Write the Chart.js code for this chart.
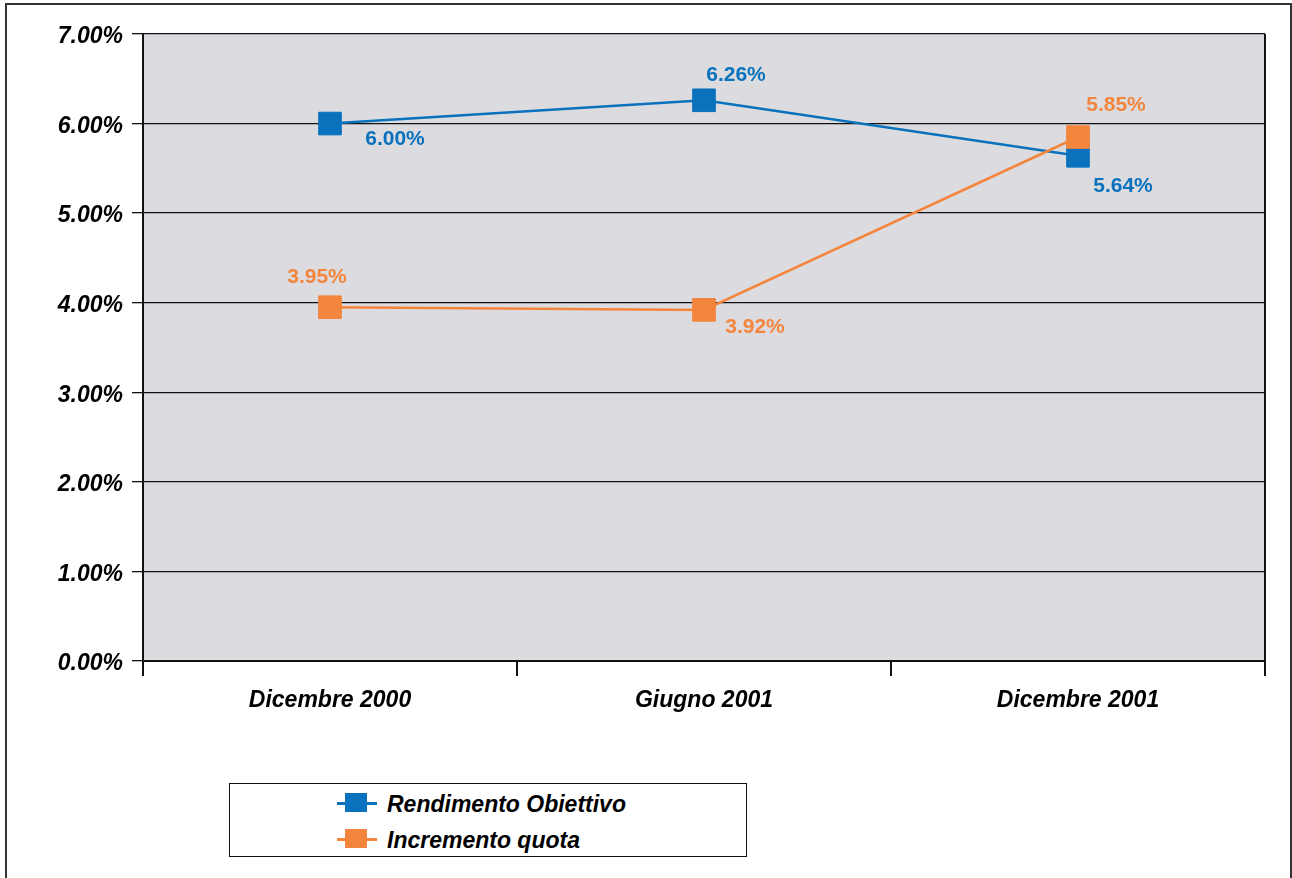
<!DOCTYPE html>
<html>
<head>
<meta charset="utf-8">
<script src="https://cdn.jsdelivr.net/npm/chart.js@4.4.1/dist/chart.umd.min.js"></script>
<style>
  html, body { margin: 0; padding: 0; background: #fff; }
  #frame { position: absolute; left: 5px; top: 3px; width: 1283px; height: 890px; border: 2px solid #333; }
  #wrap { position: absolute; left: 0; top: 0; width: 1292px; height: 878px; }
  #legend {
    position: absolute; left: 229px; top: 783px; width: 516px; height: 72px;
    border: 1.5px solid #111; background: #fff;
    font-family: 'Liberation Sans', Arial, sans-serif; font-style: italic; font-weight: bold;
    font-size: 23px; color: #000;
  }
  .item { position: absolute; left: 107px; height: 24px; line-height: 24px; white-space: nowrap; }
  .sym { position: absolute; left: 0; top: 0; width: 40px; height: 24px; }
  .sym .ln { position: absolute; left: 0; top: 11px; width: 40px; height: 3px; }
  .sym .sq { position: absolute; left: 8px; top: 2px; width: 22px; height: 19px; }
  .item .txt { position: absolute; left: 50px; top: 1px; }
</style>
</head>
<body>
<div id="frame"></div>
<div id="wrap"><canvas id="chart" width="1292" height="878"></canvas></div>
<div id="legend"></div>
<script>
// Rendimento obiettivo vs incremento quota

const categories = ['Dicembre 2000', 'Giugno 2001', 'Dicembre 2001'];
const seriesNames = ['Rendimento Obiettivo', 'Incremento quota'];
const rendimento = [6.00, 6.26, 5.64];
const incremento = [3.95, 3.92, 5.85];
const yTicks = [0, 1, 2, 3, 4, 5, 6, 7];

const BLUE = '#0a72bd';
const ORANGE = '#f4853d';
const FONT = "'Liberation Sans', Arial, sans-serif";

// where each value label sits relative to its point (px)
const labelOffsets = [
    [[65, 16], [32, -25], [45, 30]],
    [[-13, -30], [51, 17], [38, -32]]
];

const plotBackground = {
    id: 'plotBackground',
    beforeDraw(chart) {
        const a = chart.chartArea;
        const ctx = chart.ctx;
        ctx.save();
        ctx.fillStyle = '#dcdce0';
        ctx.fillRect(a.left, a.top, a.right - a.left, a.bottom - a.top);
        ctx.restore();
    },
    afterDraw(chart) {
        const a = chart.chartArea;
        const ctx = chart.ctx;
        ctx.save();
        ctx.strokeStyle = '#111';
        ctx.lineWidth = 2;
        ctx.beginPath();
        ctx.moveTo(a.right, a.top);
        ctx.lineTo(a.right, a.bottom);
        ctx.stroke();
        ctx.restore();
    }
};

const valueLabels = {
    id: 'valueLabels',
    afterDatasetsDraw(chart) {
        const ctx = chart.ctx;
        ctx.save();
        ctx.font = 'bold 21px ' + FONT;
        ctx.textAlign = 'center';
        ctx.textBaseline = 'middle';
        chart.data.datasets.forEach(function (ds, i) {
            const meta = chart.getDatasetMeta(i);
            ctx.fillStyle = ds.borderColor;
            meta.data.forEach(function (pt, j) {
                const off = labelOffsets[i][j];
                ctx.fillText(ds.data[j].toFixed(2) + '%', pt.x + off[0], pt.y + off[1]);
            });
        });
        ctx.restore();
    }
};

const colors = [BLUE, ORANGE];
const values = [rendimento, incremento];

const ctx = document.getElementById('chart').getContext('2d');
const chart = new Chart(ctx, {
    type: 'line',
    data: {
        labels: categories,
        datasets: seriesNames.map(function (name, i) {
            return {
                label: name,
                data: values[i],
                borderColor: colors[i],
                backgroundColor: colors[i],
                borderWidth: 2.5,
                pointStyle: 'rect',
                pointRadius: 16,
                pointHoverRadius: 16,
                pointBorderWidth: 1,
                pointBorderColor: colors[i],
                pointBackgroundColor: colors[i],
                tension: 0,
                order: 2 - i
            };
        })
    },
    options: {
        responsive: false,
        animation: false,
        layout: { padding: { top: 34, right: 27, bottom: 157, left: 0 } },
        scales: {
            x: {
                offset: true,
                afterFit(scale) { scale.height = 60; },
                grid: { offset: true, drawOnChartArea: false, drawTicks: true, tickLength: 15, color: '#111', lineWidth: 2 },
                border: { display: true, color: '#111', width: 2 },
                ticks: { padding: 11, color: '#000', font: { family: FONT, size: 23, style: 'italic', weight: 'bold' } }
            },
            y: {
                min: 0,
                max: 7,
                afterFit(scale) { scale.width = 143; },
                afterBuildTicks(scale) { scale.ticks = yTicks.map(v => ({ value: v })); },
                grid: { color: '#111', lineWidth: 1.3, tickLength: 11 },
                border: { display: true, color: '#111', width: 2 },
                ticks: {
                    padding: 9,
                    labelOffset: 3,
                    color: '#000',
                    font: { family: FONT, size: 23, style: 'italic', weight: 'bold' },
                    callback: v => v.toFixed(2) + '%'
                }
            }
        },
        plugins: {
            legend: { display: false },
            tooltip: { enabled: false }
        }
    },
    plugins: [plotBackground, valueLabels]
});

// --- legend en HTML ---
const legendEl = document.getElementById('legend');
seriesNames.forEach(function (name, i) {
    const item = document.createElement('div');
    item.className = 'item';
    item.style.top = (7 + i * 36) + 'px';
    item.innerHTML = '<span class="sym"><span class="ln" style="background:' + colors[i] + '"></span>' +
        '<span class="sq" style="background:' + colors[i] + '"></span></span>' +
        '<span class="txt">' + name + '</span>';
    legendEl.appendChild(item);
});
</script>
</body>
</html>
